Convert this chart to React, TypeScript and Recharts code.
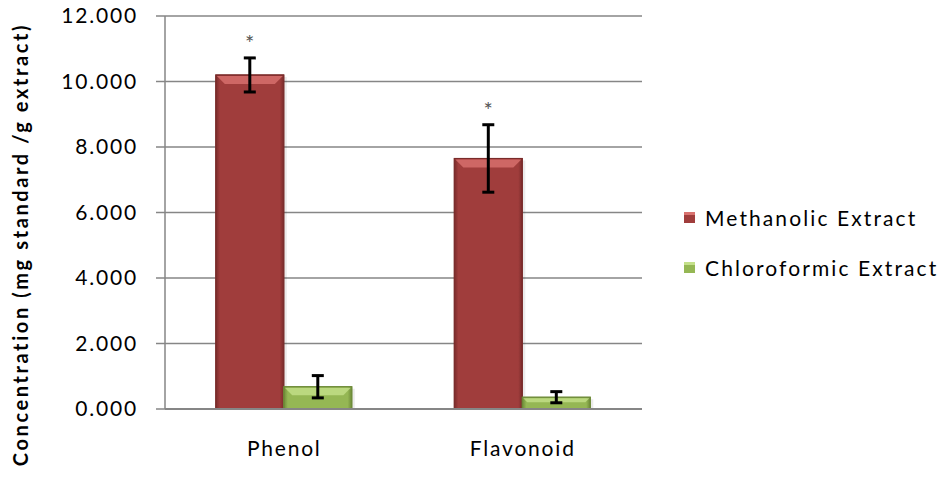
import React from 'react';
import { BarChart, Bar, XAxis, YAxis, CartesianGrid, ErrorBar, LabelList, Legend } from 'recharts';

const categories = ['Phenol', 'Flavonoid'];
const methanolic = [10.2, 7.65];
const methanolicErr = [0.52, 1.03];
const chloroformic = [0.68, 0.36];
const chloroformicErr = [0.34, 0.17];
const marks = ['*', '*'];
const yTicks = [0, 2, 4, 6, 8, 10, 12];

const data = categories.map((name, i) => ({
  name,
  methanolic: methanolic[i],
  methanolicErr: methanolicErr[i],
  chloroformic: chloroformic[i],
  chloroformicErr: chloroformicErr[i],
}));

const FONT = 'Lato, "Open Sans", sans-serif';
const SPACING = 1.8;

const makeBevel = (base: string, dark: string, light: string, id: string) => (props: any) => {
  const { x, y, width, height } = props;
  if (!height || height <= 0) return null;
  const hl = Math.min(8, height / 3);
  return (
    <g>
      <rect x={x + 3} y={y + 2} width={width} height={height - 2} fill="#000" opacity={0.08} />
      <rect x={x} y={y} width={width} height={height} fill={`url(#${id})`} stroke={dark} strokeWidth={1} />
      <polygon
        points={`${x + 1},${y + 1} ${x + width - 1},${y + 1} ${x + width - 1 - hl},${y + 1 + hl} ${x + 1 + hl},${y + 1 + hl}`}
        fill={light}
        opacity={0.8}
      />
      <rect x={x} y={y} width={width} height={height} fill="none" stroke={dark} strokeWidth={1} />
      <defs>
        <linearGradient id={id} x1="0" y1="0" x2="1" y2="0">
          <stop offset="0%" stopColor={dark} />
          <stop offset="6%" stopColor={base} />
          <stop offset="94%" stopColor={base} />
          <stop offset="100%" stopColor={dark} />
        </linearGradient>
      </defs>
    </g>
  );
};

const RedBar = makeBevel('#A03D3C', '#7A2C2B', '#D9726F', 'gradRed');
const GreenBar = makeBevel('#95B754', '#6D8A38', '#C4E08A', 'gradGreen');

const Star = (props: any) => {
  const { x, y, width, height, value, index } = props;
  if (!value) return null;
  const perUnit = height / value;
  const top = y + height - (value + methanolicErr[index]) * perUnit;
  return (
    <text x={x + width / 2} y={top - 7} textAnchor="middle" fontSize={22} fill="#555" fontFamily={FONT}>
      {marks[index]}
    </text>
  );
};

const YLabel = (props: any) => {
  const vb = props.viewBox || {};
  const cy = (vb.y ?? 16) + (vb.height ?? 393) / 2 + 32;
  return (
    <text
      x={28}
      y={cy}
      transform={`rotate(-90, 28, ${cy})`}
      textAnchor="middle"
      fontSize={20}
      fontWeight={700}
      fill="#000"
      fontFamily={FONT}
      letterSpacing={2.6}
    >
      Concentration (mg standard  /g extract)
    </text>
  );
};

const legendItems = [
  { label: 'Methanolic Extract', color: '#A03D3C', light: '#D9726F' },
  { label: 'Chloroformic Extract', color: '#95B754', light: '#C4E08A' },
];

const LegendContent = () => (
  <div style={{ fontFamily: FONT, fontSize: 21, letterSpacing: 2.1, color: '#000' }}>
    {legendItems.map((it) => (
      <div key={it.label} style={{ display: 'flex', alignItems: 'center', height: 50 }}>
        <span
          style={{
            display: 'inline-block',
            width: 11,
            height: 11,
            background: it.color,
            borderTop: `3px solid ${it.light}`,
            boxSizing: 'border-box',
            marginRight: 10,
          }}
        />
        {it.label}
      </div>
    ))}
  </div>
);

const App: React.FC = () => {
  return (
    <div style={{ position: 'absolute', left: 0, top: 0, width: 948, height: 480, background: '#fff' }}>
      <BarChart
        width={948}
        height={480}
        data={data}
        margin={{ top: 16, right: 42, bottom: 0, left: 0 }}
        barCategoryGap="21.3%"
        barGap={0}
      >
        <CartesianGrid vertical={false} stroke="#868686" strokeWidth={1.5} />
        <XAxis
          dataKey="name"
          height={71}
          axisLine={{ stroke: '#868686', strokeWidth: 2 }}
          tickLine={false}
          tick={{ fontSize: 21, fill: '#000', fontFamily: FONT, letterSpacing: SPACING }}
          tickMargin={26}
        />
        <YAxis
          width={165}
          domain={[0, 12]}
          ticks={yTicks}
          interval={0}
          tickFormatter={(v: number) => v.toFixed(3)}
          axisLine={{ stroke: '#868686', strokeWidth: 1.5 }}
          tickLine={{ stroke: '#868686', strokeWidth: 1.5 }}
          tickSize={9}
          tickMargin={18}
          tick={{ fontSize: 21, fill: '#000', fontFamily: FONT, letterSpacing: SPACING }}
          label={<YLabel />}
        />
        <Legend
          layout="vertical"
          align="right"
          verticalAlign="middle"
          content={<LegendContent />}
          wrapperStyle={{ left: 684, top: 192, width: 264 }}
        />
        <Bar dataKey="methanolic" name="Methanolic Extract" fill="#A03D3C" shape={RedBar} isAnimationActive={false}>
          <ErrorBar dataKey="methanolicErr" width={6} stroke="#000" strokeWidth={3} />
          <LabelList dataKey="methanolic" content={Star} />
        </Bar>
        <Bar dataKey="chloroformic" name="Chloroformic Extract" fill="#95B754" shape={GreenBar} isAnimationActive={false}>
          <ErrorBar dataKey="chloroformicErr" width={6} stroke="#000" strokeWidth={3} />
        </Bar>
      </BarChart>
    </div>
  );
};

export default App;
